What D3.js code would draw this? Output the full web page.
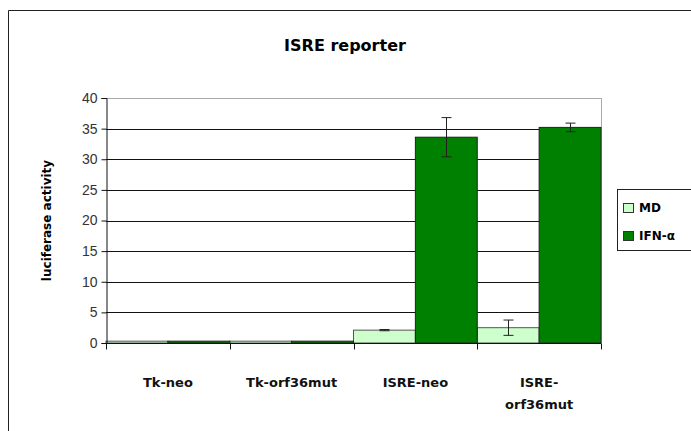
<!DOCTYPE html>
<html>
<head>
<meta charset="utf-8">
<script src="https://cdnjs.cloudflare.com/ajax/libs/d3/7.8.5/d3.min.js"></script>
<style>
  body { margin: 0; background: #fff; }
  text { font-family: "DejaVu Sans", sans-serif; }
</style>
</head>
<body>
<script>
var width = 691,
    height = 431;

var categories = [['Tk-neo'], ['Tk-orf36mut'], ['ISRE-neo'], ['ISRE-', 'orf36mut']];
var seriesNames = ['MD', 'IFN-\u03b1'];
var mdValues = [0.3, 0.3, 2.1, 2.5];
var mdErrors = [0, 0, 0.1, 1.25];
var ifnValues = [0.3, 0.3, 33.6, 35.2];
var ifnErrors = [0, 0, 3.2, 0.7];
var yTicks = [0, 5, 10, 15, 20, 25, 30, 35, 40];
var colors = ['#ccffcc', '#008000'];

var margin = {left: 106, right: 90, top: 98, bottom: 88};

var svg = d3.select('body')
  .append('svg')
  .attr('width', width)
  .attr('height', height);

// outer chart border
svg.append('path')
  .attr('d', 'M8.5,' + height + 'V10.5H' + width)
  .attr('fill', 'none')
  .attr('stroke', '#222')
  .attr('stroke-width', 1);

svg.append('text')
  .attr('x', 345)
  .attr('y', 51)
  .attr('text-anchor', 'middle')
  .style('font-size', '16px')
  .style('font-weight', 'bold')
  .text('ISRE reporter');

var x = d3.scaleBand()
  .domain(d3.range(categories.length))
  .range([margin.left, width - margin.right])
  .paddingInner(0)
  .paddingOuter(0);

var xs = d3.scaleBand()
  .domain([0, 1])
  .range([0, x.bandwidth()]);

var y = d3.scaleLinear()
  .domain([0, 40])
  .range([height - margin.bottom, margin.top]);

// gridlines
svg.append('g')
  .selectAll('line')
  .data(yTicks.slice(1))
  .enter().append('line')
  .attr('x1', margin.left)
  .attr('x2', width - margin.right)
  .attr('y1', function (d) { return Math.round(y(d)) + 0.5; })
  .attr('y2', function (d) { return Math.round(y(d)) + 0.5; })
  .attr('stroke', function (d) { return d === 40 ? '#aaa' : '#111'; });

// right border of plot area
svg.append('line')
  .attr('x1', width - margin.right + 0.5)
  .attr('x2', width - margin.right + 0.5)
  .attr('y1', y(40))
  .attr('y2', y(0))
  .attr('stroke', '#aaa');

var series = [
  {name: seriesNames[0], values: mdValues, errors: mdErrors, color: colors[0]},
  {name: seriesNames[1], values: ifnValues, errors: ifnErrors, color: colors[1]}
];

series.forEach(function (s, si) {
  var g = svg.append('g');
  g.selectAll('rect')
    .data(s.values)
    .enter().append('rect')
    .attr('x', function (d, i) { return x(i) + xs(si); })
    .attr('y', function (d) { return y(d); })
    .attr('width', xs.bandwidth())
    .attr('height', function (d) { return y(0) - y(d); })
    .attr('fill', s.color)
    .attr('stroke', si === 0 ? '#555' : '#222')
    .attr('stroke-width', 1);

  var err = g.selectAll('g.err')
    .data(s.values.map(function (v, i) { return {v: v, e: s.errors[i], i: i}; })
      .filter(function (d) { return d.e > 0; }))
    .enter().append('g');
  var cx = function (d) { return Math.round(x(d.i) + xs(si) + xs.bandwidth() / 2) + 0.5; };
  err.append('line')
    .attr('x1', cx).attr('x2', cx)
    .attr('y1', function (d) { return y(d.v + d.e); })
    .attr('y2', function (d) { return y(d.v - d.e); })
    .attr('stroke', '#222');
  [1, -1].forEach(function (sign) {
    err.append('line')
      .attr('x1', function (d) { return cx(d) - 5; })
      .attr('x2', function (d) { return cx(d) + 5; })
      .attr('y1', function (d) { return y(d.v + sign * d.e); })
      .attr('y2', function (d) { return y(d.v + sign * d.e); })
      .attr('stroke', '#222');
  });
});

// y axis
var yAxis = svg.append('g')
  .attr('transform', 'translate(' + (margin.left + 0.5) + ',0)')
  .call(d3.axisLeft(y).tickValues(yTicks).tickSize(5).tickPadding(4));
yAxis.select('.domain').attr('stroke', '#111');
yAxis.selectAll('.tick line').attr('stroke', '#111');
yAxis.selectAll('.tick text')
  .style('font-family', '"Liberation Sans", Arial, sans-serif')
  .style('font-size', '14px')
  .attr('fill', '#333');

// x axis
var xAxisG = svg.append('g')
  .attr('transform', 'translate(0,' + (y(0) + 0.5) + ')');
xAxisG.append('line')
  .attr('x1', margin.left)
  .attr('x2', width - margin.right)
  .attr('stroke', '#111');
xAxisG.selectAll('line.tk')
  .data(d3.range(categories.length + 1))
  .enter().append('line')
  .attr('x1', function (d) { return Math.round(margin.left + d * x.bandwidth()) + 0.5; })
  .attr('x2', function (d) { return Math.round(margin.left + d * x.bandwidth()) + 0.5; })
  .attr('y1', 0)
  .attr('y2', 6)
  .attr('stroke', '#111');

svg.append('g')
  .selectAll('text')
  .data(categories)
  .enter().append('text')
  .attr('x', function (d, i) { return x(i) + x.bandwidth() / 2; })
  .attr('y', 387)
  .attr('text-anchor', 'middle')
  .style('font-size', '13px')
  .style('font-weight', 'bold')
  .attr('fill', '#111')
  .selectAll('tspan')
  .data(function (d) { return d; })
  .enter().append('tspan')
  .attr('x', function () { return d3.select(this.parentNode).attr('x'); })
  .attr('dy', function (d, i) { return i === 0 ? 0 : 22; })
  .text(function (d) { return d; });

svg.append('text')
  .attr('transform', 'translate(51,' + (y(20)) + ') rotate(-90)')
  .attr('text-anchor', 'middle')
  .style('font-size', '12px')
  .style('font-weight', 'bold')
  .text('luciferase activity');

// legend
var legend = svg.append('g');
legend.append('rect')
  .attr('x', 617.5)
  .attr('y', 189.5)
  .attr('width', 80)
  .attr('height', 61)
  .attr('fill', '#fff')
  .attr('stroke', '#222');

legend.selectAll('rect.sw')
  .data(series)
  .enter().append('rect')
  .attr('x', 623.5)
  .attr('y', function (d, i) { return 203.5 + i * 28; })
  .attr('width', 10)
  .attr('height', 9)
  .attr('fill', function (d) { return d.color; })
  .attr('stroke', '#333');

legend.selectAll('text')
  .data(series)
  .enter().append('text')
  .attr('x', 639)
  .attr('y', function (d, i) { return 212 + i * 28; })
  .style('font-size', '12px')
  .style('font-weight', 'bold')
  .text(function (d) { return d.name; });
</script>
</body>
</html>
